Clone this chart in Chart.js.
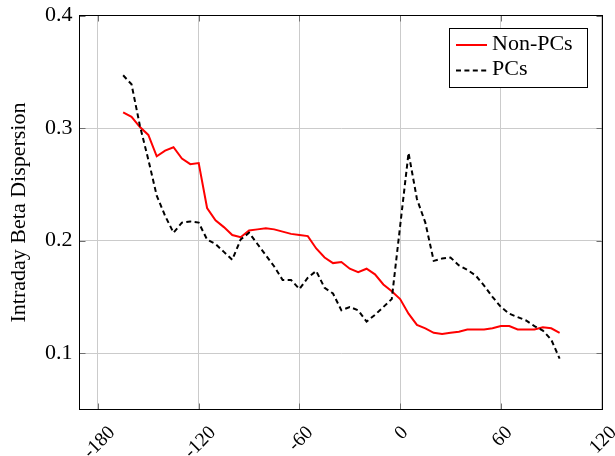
<!DOCTYPE html>
<html><head><meta charset="utf-8">
<script src="https://cdn.jsdelivr.net/npm/chart.js@4"></script>
<style>html,body{margin:0;padding:0;background:#fff;}#wrap{width:615px;height:456px;}</style>
</head><body><div id="wrap"><canvas id="c" width="615" height="456"></canvas></div>
<script>
const xValues = [-165,-160,-155,-150,-145,-140,-135,-130,-125,-120,-115,-110,-105,-100,-95,-90,-85,-80,-75,-70,-65,-60,-55,-50,-45,-40,-35,-30,-25,-20,-15,-10,-5,0,5,10,15,20,25,30,35,40,45,50,55,60,65,70,75,80,85,90,95];
const nonPCs = [0.314,0.310,0.301,0.294,0.275,0.280,0.283,0.273,0.268,0.269,0.229,0.218,0.212,0.205,0.203,0.209,0.210,0.211,0.210,0.208,0.206,0.205,0.204,0.193,0.185,0.180,0.181,0.175,0.172,0.175,0.170,0.161,0.155,0.148,0.135,0.125,0.122,0.118,0.117,0.118,0.119,0.121,0.121,0.121,0.122,0.124,0.124,0.121,0.121,0.121,0.123,0.122,0.118];
const pcs = [0.347,0.339,0.302,0.272,0.240,0.222,0.207,0.216,0.217,0.216,0.201,0.197,0.190,0.183,0.201,0.207,0.197,0.187,0.177,0.165,0.165,0.157,0.167,0.173,0.158,0.153,0.138,0.141,0.138,0.128,0.134,0.141,0.148,0.213,0.278,0.237,0.216,0.182,0.184,0.185,0.178,0.174,0.169,0.160,0.150,0.141,0.135,0.132,0.129,0.124,0.120,0.112,0.095];
const seriesLabels = ['Non-PCs', 'PCs'];
const xTicks = [-180, -120, -60, 0, 60, 120];
const yTicks = [0.1, 0.2, 0.3, 0.4];
const yTitle = 'Intraday Beta Dispersion';

const FONT = '"Liberation Serif", "Times New Roman", serif';
const DASH = [5, 3.4];
const XFONT = 19.5;

const toPts = (ys) => xValues.map((x, i) => ({x: x, y: ys[i]}));

const framePlugin = {
  id: 'frame',
  afterDraw(chart) {
    const ctx = chart.ctx;
    const a = chart.chartArea;
    const xs = chart.scales.x, ys = chart.scales.y;
    const L = Math.round(a.left) - 0.5, R = Math.round(a.right) - 0.5, T = Math.round(a.top) - 0.5, B = Math.round(a.bottom) + 0.5;
    ctx.save();
    // inner tick marks
    ctx.strokeStyle = '#707070';
    ctx.lineWidth = 1;
    ctx.beginPath();
    xTicks.forEach(v => {
      const px = Math.round(xs.getPixelForValue(v)) + 0.5;
      ctx.moveTo(px, B); ctx.lineTo(px, B - 6);
      ctx.moveTo(px, T); ctx.lineTo(px, T + 6);
    });
    yTicks.forEach(v => {
      const py = Math.round(ys.getPixelForValue(v)) + 0.5;
      ctx.moveTo(L, py); ctx.lineTo(L + 6, py);
      ctx.moveTo(R, py); ctx.lineTo(R - 6, py);
    });
    ctx.stroke();
    // frame
    ctx.strokeStyle = '#000';
    ctx.strokeRect(L, T, R - L, B - T);
    // x tick labels rotated 45 degrees
    ctx.fillStyle = '#000';
    ctx.font = XFONT + 'px ' + FONT;
    ctx.textAlign = 'center';
    ctx.textBaseline = 'middle';
    xTicks.forEach(v => {
      const px = xs.getPixelForValue(v);
      const label = String(v);
      const w = ctx.measureText(label).width;
      const h = XFONT * 0.66;
      const cy = a.bottom + 16 + (w + h) * 0.3536;
      ctx.save();
      ctx.translate(px + 1.5, cy);
      ctx.rotate(-Math.PI / 4);
      ctx.fillText(label, 0, 0);
      ctx.restore();
    });
    // legend
    const bx = 449.5, by = 28.5, bw = 138, bh = 59;
    ctx.fillStyle = '#fff';
    ctx.fillRect(bx, by, bw, bh);
    ctx.strokeStyle = '#000';
    ctx.lineWidth = 1;
    ctx.strokeRect(bx, by, bw, bh);
    ctx.font = '22px ' + FONT;
    const rows = [45, 70.5];
    chart.data.datasets.forEach((ds, i) => {
      ctx.save();
      ctx.strokeStyle = ds.borderColor;
      ctx.lineWidth = ds.borderWidth;
      ctx.setLineDash(ds.borderDash || []);
      ctx.beginPath();
      ctx.moveTo(456, rows[i]);
      ctx.lineTo(487, rows[i]);
      ctx.stroke();
      ctx.restore();
      ctx.fillStyle = '#000';
      ctx.textAlign = 'left';
      ctx.textBaseline = 'middle';
      ctx.fillText(ds.label, 492, rows[i] - 1);
    });
    ctx.restore();
  }
};

new Chart(document.getElementById('c'), {
  type: 'line',
  data: {
    datasets: [
      { label: seriesLabels[0], data: toPts(nonPCs), borderColor: '#ff0000', borderWidth: 2, pointRadius: 0, tension: 0, fill: false, order: 1 },
      { label: seriesLabels[1], data: toPts(pcs), borderColor: '#000000', borderWidth: 2, borderDash: DASH, pointRadius: 0, tension: 0, fill: false, order: 0 }
    ]
  },
  options: {
    responsive: false,
    devicePixelRatio: 1,
    animation: false,
    layout: { padding: { top: 15.7, right: 12.4, bottom: 0, left: 0 } },
    plugins: { legend: { display: false }, tooltip: { enabled: false } },
    scales: {
      x: {
        type: 'linear',
        min: -191, max: 120.6,
        afterBuildTicks: (s) => { s.ticks = xTicks.map(v => ({ value: v })); },
        afterFit: (s) => { s.height = 46.7; s.paddingLeft = 0; s.paddingRight = 0; },
        ticks: { display: false },
        grid: { color: '#cbcbcb', lineWidth: 1, drawTicks: false },
        border: { display: false }
      },
      y: {
        type: 'linear',
        min: 0.05, max: 0.4,
        afterBuildTicks: (s) => { s.ticks = yTicks.map(v => ({ value: v })); },
        afterFit: (s) => { s.width = 79.5; s.paddingTop = 0; s.paddingBottom = 0; },
        ticks: { color: '#000', font: { family: FONT, size: 22 }, padding: 7, callback: (v) => String(v) },
        grid: { color: '#cbcbcb', lineWidth: 1, drawTicks: false },
        border: { display: false },
        title: { display: true, text: yTitle, color: '#000', font: { family: FONT, size: 22 }, padding: { top: 6, bottom: 0 } }
      }
    }
  },
  plugins: [framePlugin]
});
</script>
</body></html>
